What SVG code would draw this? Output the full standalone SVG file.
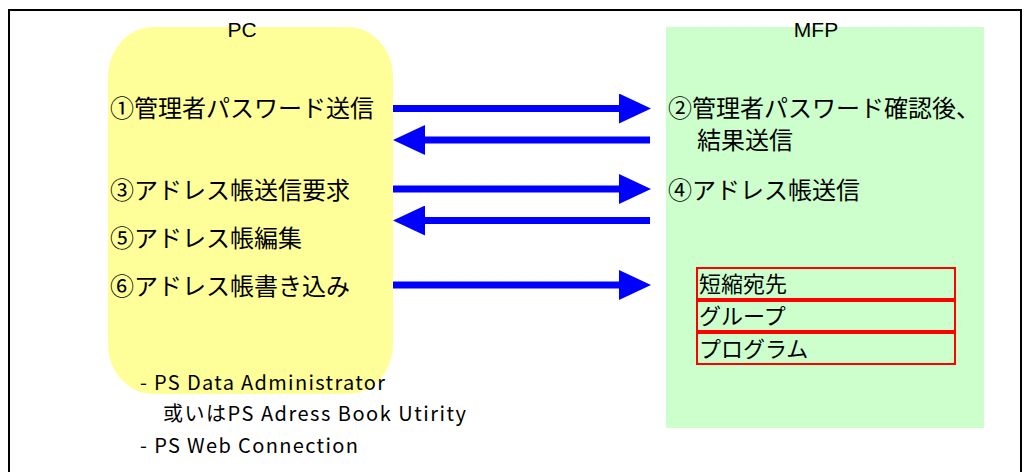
<svg xmlns="http://www.w3.org/2000/svg" width="1024" height="472" viewBox="0 0 1024 472">
<style>
.jp{font-family:"Noto Sans CJK JP","Noto Sans",sans-serif;font-size:24px;fill:#000}
.item{font-family:"Noto Sans CJK JP","Noto Sans",sans-serif;font-size:22px;fill:#000}
.lbl{font-family:"Liberation Sans",Arial,sans-serif;font-size:21px;fill:#000}
.note{font-family:"Noto Sans CJK JP","Noto Sans",sans-serif;font-size:20px;fill:#000}
.conn{stroke:#0000ff;stroke-width:7;fill:none}
.box{fill:none;stroke:#ff0000;stroke-width:2}
</style>
<defs>
<marker id="ah" markerUnits="userSpaceOnUse" markerWidth="32" markerHeight="30" viewBox="0 0 32 30" refX="1" refY="15" orient="auto">
<path d="M0,0 L32,15 L0,30 z" fill="#0000ff"/>
</marker>
</defs>
<rect x="0" y="0" width="1024" height="472" fill="#ffffff"/>
<rect x="9" y="10" width="1012" height="520" fill="none" stroke="#000" stroke-width="2"/>
<g id="pc">
<rect x="108" y="27" width="285" height="367" rx="45" ry="50" fill="#ffff99"/>
<text class="lbl" x="242" y="37" text-anchor="middle">PC</text>
<text class="jp" x="110" y="117">①管理者パスワード送信</text>
<text class="jp" x="110" y="199">③アドレス帳送信要求</text>
<text class="jp" x="110" y="247">⑤アドレス帳編集</text>
<text class="jp" x="110" y="295">⑥アドレス帳書き込み</text>
</g>
<g id="mfp">
<rect x="666" y="27" width="318" height="401" fill="#ccffcc"/>
<text class="lbl" x="816" y="37" text-anchor="middle">MFP</text>
<text class="jp" x="668" y="117">②管理者パスワード確認後、</text>
<text class="jp" x="697" y="149">結果送信</text>
<text class="jp" x="668" y="199">④アドレス帳送信</text>
</g>
<g id="mfp-items">
<g id="item-short">
<rect class="box" x="697" y="268" width="258" height="31"/>
<text class="item" x="699" y="292">短縮宛先</text>
</g>
<g id="item-group">
<rect class="box" x="697" y="301" width="258" height="30"/>
<text class="item" x="699" y="324">グループ</text>
</g>
<g id="item-program">
<rect class="box" x="697" y="333" width="258" height="31"/>
<text class="item" x="699" y="357">プログラム</text>
</g>
</g>
<g id="notes">
<text class="note" x="140" y="390" textLength="245" lengthAdjust="spacing">- PS Data Administrator</text>
<text class="note" x="163" y="421" textLength="303" lengthAdjust="spacing">或いはPS Adress Book Utirity</text>
<text class="note" x="140" y="453" textLength="218" lengthAdjust="spacing">- PS Web Connection</text>
</g>
<g id="connectors">
<line class="conn" x1="393" y1="108.5" x2="620" y2="108.5" marker-end="url(#ah)"/>
<line class="conn" x1="650" y1="140" x2="424" y2="140" marker-end="url(#ah)"/>
<line class="conn" x1="393" y1="189" x2="620" y2="189" marker-end="url(#ah)"/>
<line class="conn" x1="650" y1="220.5" x2="424" y2="220.5" marker-end="url(#ah)"/>
<line class="conn" x1="393" y1="285" x2="620" y2="285" marker-end="url(#ah)"/>
</g>
</svg>
